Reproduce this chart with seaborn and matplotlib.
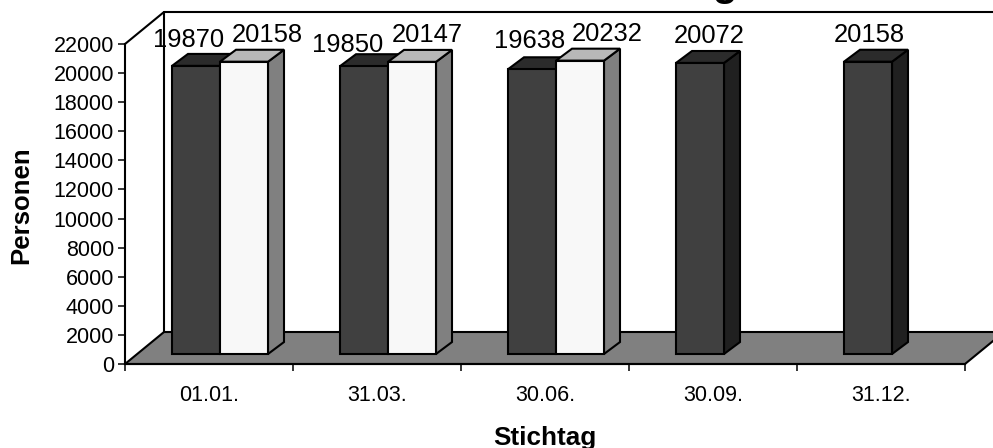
import numpy as np
import pandas as pd
import seaborn as sns
import matplotlib.pyplot as plt
from matplotlib.patches import Polygon

stichtag = ['01.01.', '31.03.', '30.06.', '30.09.', '31.12.']
serie_a = [19870, 19850, 19638, 20072, 20158]
serie_b = [20158, 20147, 20232, np.nan, np.nan]
y_ticks = list(range(0, 22001, 2000))

# label nudges in pixels, the labels in the original sit unevenly over the bars
offsets_a = [(-7, 19), (-16, 14), (-2, 21), (9, 20), (1, 20)]
offsets_b = [(23, 20), (15, 20), (27, 20)]

W, H = 993, 448
black = '#000000'
colors_a = {'front': '#404040', 'top': '#2b2b2b', 'side': '#202020'}
colors_b = {'front': '#f8f8f8', 'top': '#b8b8b8', 'side': '#808080'}

sns.set_theme(style='white')
plt.rcParams['font.family'] = ['Liberation Sans', 'DejaVu Sans']

df = pd.DataFrame({
    'stichtag': stichtag * 2,
    'personen': serie_a + serie_b,
    'serie': ['a'] * 5 + ['b'] * 5,
})

fig = plt.figure(figsize=(W / 100, H / 100), dpi=100)

# front plane of the fake 3d box: x 125-965, y 44-364 px
ax = fig.add_axes([125 / W, (H - 364) / H, 840 / W, 320 / H])
ax.set_xlim(-0.5, 4.5)
ax.set_ylim(0, 22000)

# bars stand a little behind the front plane
ax_bars = fig.add_axes([136 / W, (H - 354) / H, 840 / W, 319 / H], zorder=2)
ax_bars.patch.set_visible(False)

sns.barplot(data=df, x='stichtag', y='personen', hue='serie', order=stichtag,
            hue_order=['a', 'b'], palette={'a': colors_a['front'], 'b': colors_b['front']},
            width=96 / 168, gap=0, edgecolor=black, linewidth=1.5, saturation=1,
            legend=False, ax=ax_bars)
ax_bars.set_xlim(-0.5, 4.5)
ax_bars.set_ylim(0, 22000)
ax_bars.axis('off')

# box walls and floor
wall_dx = 39 / 168
wall_dy = 2200
x0, x1 = -0.5, 4.5
ax.add_patch(Polygon([(x0, 0), (x0 + wall_dx, wall_dy), (x1 + wall_dx, wall_dy), (x1, 0)],
                     closed=True, facecolor='#808080', edgecolor=black, linewidth=1.5, clip_on=False))
ax.plot([x0, x0 + wall_dx, x1 + wall_dx], [22000, 22000 + wall_dy, 22000 + wall_dy],
        color=black, linewidth=1.5, clip_on=False)
ax.plot([x0 + wall_dx, x0 + wall_dx], [wall_dy, 22000 + wall_dy], color=black, linewidth=1.5, clip_on=False)

# depth faces of the bars
bar_dx = 16 / 168
bar_dy = 825


def add_depth(bars, colors, z):
    for bar in bars:
        x, w, h = bar.get_x(), bar.get_width(), bar.get_height()
        side = [(x + w, 0), (x + w + bar_dx, bar_dy), (x + w + bar_dx, h + bar_dy), (x + w, h)]
        top = [(x, h), (x + bar_dx, h + bar_dy), (x + w + bar_dx, h + bar_dy), (x + w, h)]
        ax_bars.add_patch(Polygon(side, closed=True, facecolor=colors['side'], edgecolor=black,
                                  linewidth=1.5, clip_on=False, zorder=z))
        ax_bars.add_patch(Polygon(top, closed=True, facecolor=colors['top'], edgecolor=black,
                                  linewidth=1.5, clip_on=False, zorder=z))
        bar.set_zorder(z + 1)
        bar.set_clip_on(False)


bars_a, bars_b = ax_bars.containers[0], ax_bars.containers[1]
add_depth(bars_a, colors_a, 2)
add_depth(bars_b, colors_b, 4)


def add_labels(bars, values, offsets):
    for bar, val, off in zip(bars, values, offsets):
        ax_bars.annotate(str(int(val)), (bar.get_x() + bar.get_width() / 2, bar.get_height()),
                         xytext=off, textcoords='offset pixels', ha='center', va='baseline',
                         fontsize=18.4, color=black, annotation_clip=False, zorder=10)


add_labels(bars_a, serie_a, offsets_a)
add_labels(bars_b, serie_b[:3], offsets_b)

# axis ticks
ax.set_yticks(y_ticks)
ax.set_xticks(np.arange(-0.5, 5))
ax.set_xticklabels([])
ax.set_xticks(range(5), stichtag, minor=True)
ax.tick_params(axis='y', which='major', left=True, length=5, width=1.1, color=black,
               labelsize=15.5, labelcolor=black, pad=3)
ax.tick_params(axis='x', which='major', bottom=True, length=5, width=1.1, color=black)
ax.tick_params(axis='x', which='minor', bottom=False, labelsize=15.5, labelcolor=black, pad=11)

sns.despine(ax=ax)
for s in ['left', 'bottom']:
    ax.spines[s].set_color(black)
    ax.spines[s].set_linewidth(1.5)

ax.set_xlabel('')
ax.set_ylabel('')
fig.text(545 / W, (H - 445) / H, 'Stichtag', ha='center', va='baseline',
         fontsize=18.8, fontweight='bold', color=black)
fig.text(21 / W, (H - 205) / H, 'Personen', rotation=90, ha='center', va='center',
         fontsize=18.5, fontweight='bold', color=black)

# title is cut off at the top of the original, only the tail of the g shows
fig.text(738 / W, (H + 4) / H, 'Stichtag', ha='right', va='baseline',
         fontsize=29, fontweight='bold', color=black)

fig.savefig('out.png', dpi=100)
